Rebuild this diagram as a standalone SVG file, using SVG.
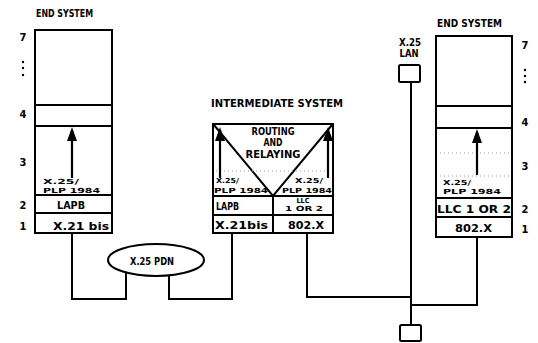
<svg xmlns="http://www.w3.org/2000/svg" width="538" height="343" viewBox="0 0 538 343">
<defs>
<style>
.b{fill:#fff;stroke:#000;stroke-width:2}
.l{stroke:#000;stroke-width:2;fill:none}
.a{stroke:#000;stroke-width:2.2;fill:none}
.h{fill:#000;stroke:none}
.d{stroke:#999;stroke-width:1;stroke-dasharray:1 3;fill:none}
text{font-family:"DejaVu Sans Condensed","DejaVu Sans",sans-serif;font-weight:bold;fill:#000}
.t{font-size:11px}
.m{font-size:10px;text-anchor:middle}
.s{font-size:7px}
.n{font-size:11px;text-anchor:middle}
</style>
</defs>
<rect width="538" height="343" fill="#fff"/>

<g id="end-system-left">
<text class="t" x="36" y="17" textLength="57" lengthAdjust="spacingAndGlyphs">END SYSTEM</text>
<rect class="b" x="35" y="30" width="77" height="203"/>
<line class="l" x1="35" y1="105" x2="112" y2="105"/>
<line class="l" x1="35" y1="126" x2="112" y2="126"/>
<line class="l" x1="35" y1="195" x2="112" y2="195"/>
<line class="l" x1="35" y1="213" x2="112" y2="213"/>
<line class="a" x1="72" y1="178" x2="72" y2="138"/>
<polygon class="h" points="72,127 67,141 77,141"/>
<text class="s" x="43" y="184" textLength="36" lengthAdjust="spacingAndGlyphs">X.25/</text>
<text class="s" x="43" y="193" textLength="57" lengthAdjust="spacingAndGlyphs">PLP 1984</text>
<text class="t" x="57" y="209" textLength="28" lengthAdjust="spacingAndGlyphs">LAPB</text>
<text class="t" x="53" y="230" textLength="56" lengthAdjust="spacingAndGlyphs">X.21 bis</text>
<text class="n" x="23" y="41">7</text>
<circle cx="23" cy="62" r="1.2"/><circle cx="23" cy="68" r="1.2"/><circle cx="23" cy="75" r="1.2"/>
<text class="n" x="23" y="118">4</text>
<text class="n" x="23" y="166">3</text>
<text class="n" x="23" y="209">2</text>
<text class="n" x="23" y="230">1</text>
</g>

<g id="intermediate-system">
<text class="t" x="211" y="107" textLength="132" lengthAdjust="spacingAndGlyphs">INTERMEDIATE SYSTEM</text>
<rect class="b" x="213" y="124" width="120" height="109"/>
<polyline class="l" points="214,125 273,196 332,125"/>
<line class="l" x1="213" y1="196" x2="333" y2="196"/>
<line class="l" x1="213" y1="215" x2="333" y2="215"/>
<line class="l" x1="273" y1="196" x2="273" y2="233"/>
<line class="d" x1="216" y1="171" x2="330" y2="171"/>
<line class="a" x1="220" y1="178" x2="220" y2="138"/>
<polygon class="h" points="220,127 215,141 225,141"/>
<line class="a" x1="328" y1="178" x2="328" y2="138"/>
<polygon class="h" points="328,127 323,141 333,141"/>
<text class="m" x="273" y="135" textLength="43" lengthAdjust="spacingAndGlyphs">ROUTING</text>
<text class="m" x="273" y="146" font-size="9" textLength="19" lengthAdjust="spacingAndGlyphs">AND</text>
<text class="m" x="273" y="158" textLength="55" lengthAdjust="spacingAndGlyphs">RELAYING</text>
<text class="s" x="216" y="183" textLength="23" lengthAdjust="spacingAndGlyphs">X.25/</text>
<text class="s" x="214" y="193" textLength="54" lengthAdjust="spacingAndGlyphs">PLP 1984</text>
<text class="s" x="295" y="183" textLength="28" lengthAdjust="spacingAndGlyphs">X.25/</text>
<text class="s" x="282" y="193" textLength="50" lengthAdjust="spacingAndGlyphs">PLP 1984</text>
<text class="t" x="216" y="210" textLength="23" lengthAdjust="spacingAndGlyphs">LAPB</text>
<text class="s" x="303" y="203" text-anchor="middle" textLength="13" lengthAdjust="spacingAndGlyphs">LLC</text>
<text class="s" x="304" y="211" text-anchor="middle" textLength="38" lengthAdjust="spacingAndGlyphs">1 OR 2</text>
<text class="t" x="215" y="229" textLength="53" lengthAdjust="spacingAndGlyphs">X.21bis</text>
<text class="t" x="288" y="229" textLength="36" lengthAdjust="spacingAndGlyphs">802.X</text>
</g>

<g id="end-system-right">
<text class="t" x="437" y="27" textLength="65" lengthAdjust="spacingAndGlyphs">END SYSTEM</text>
<rect class="b" x="436" y="36" width="76" height="201"/>
<line class="l" x1="436" y1="106" x2="512" y2="106"/>
<line class="l" x1="436" y1="128" x2="512" y2="128"/>
<line class="l" x1="436" y1="198" x2="512" y2="198"/>
<line class="l" x1="436" y1="217" x2="512" y2="217"/>
<line class="d" x1="440" y1="153" x2="510" y2="153"/>
<line class="d" x1="440" y1="176" x2="510" y2="176"/>
<line class="a" x1="477" y1="175" x2="477" y2="140"/>
<polygon class="h" points="477,129 472,143 482,143"/>
<text class="s" x="443" y="185" textLength="28" lengthAdjust="spacingAndGlyphs">X.25/</text>
<text class="s" x="443" y="194" textLength="58" lengthAdjust="spacingAndGlyphs">PLP 1984</text>
<text class="t" x="437" y="213" textLength="74" lengthAdjust="spacingAndGlyphs">LLC 1 OR 2</text>
<text class="t" x="455" y="232" textLength="37" lengthAdjust="spacingAndGlyphs">802.X</text>
<text class="n" x="525" y="49">7</text>
<circle cx="525" cy="70" r="1.2"/><circle cx="525" cy="76" r="1.2"/><circle cx="525" cy="82" r="1.2"/>
<text class="n" x="525" y="126">4</text>
<text class="n" x="525" y="170">3</text>
<text class="n" x="525" y="213">2</text>
<text class="n" x="525" y="233">1</text>
</g>

<g id="x25-pdn">
<ellipse class="b" cx="156" cy="260" rx="48" ry="16"/>
<text class="m" x="152" y="265" font-size="11" textLength="44" lengthAdjust="spacingAndGlyphs">X.25 PDN</text>
</g>

<g id="x25-lan">
<text class="m" x="410" y="46" textLength="22" lengthAdjust="spacingAndGlyphs">X.25</text>
<text class="m" x="409" y="57" font-size="9" textLength="19" lengthAdjust="spacingAndGlyphs">LAN</text>
<rect class="b" x="399" y="65" width="21" height="17" rx="1.5"/>
</g>

<g id="lan-terminator">
<rect class="b" x="400" y="325" width="21" height="16" rx="1.5"/>
</g>

<g id="connectors">
<path class="l" d="M72,233 V299 H126 V272"/>
<path class="l" d="M169,275 V299 H232 V233"/>
<path class="l" d="M307,233 V297 H411"/>
<path class="l" d="M411,82 V325"/>
<path class="l" d="M477,237 V305 H411"/>
</g>
</svg>
